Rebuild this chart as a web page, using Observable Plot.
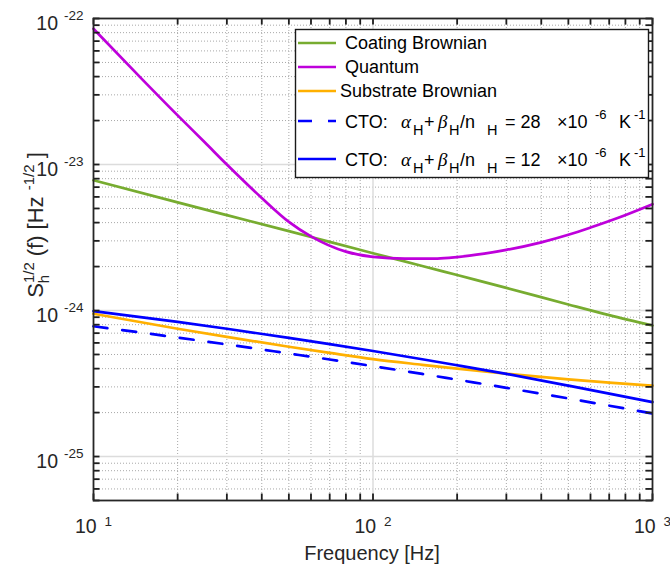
<!DOCTYPE html>
<html>
<head>
<meta charset="utf-8">
<script src="https://cdn.jsdelivr.net/npm/d3@7"></script>
<script src="https://cdn.jsdelivr.net/npm/@observablehq/plot@0.6"></script>
<style>
  body { margin: 0; background: #fff; }
  #chart { position: relative; width: 670px; height: 569px; }
  svg { font-family: "Liberation Sans", Arial, Helvetica, sans-serif; }
</style>
</head>
<body>
<div id="chart"></div>
<script>
// ---------- data ----------
const freq = [10, 20, 30, 50, 70, 100, 150, 200, 300, 500, 700, 1000];
const coatingBrownian   = [7.8e-24, 5.5e-24, 4.5e-24, 3.5e-24, 2.95e-24, 2.47e-24, 2.02e-24, 1.75e-24, 1.43e-24, 1.1e-24, 9.3e-25, 7.9e-25];
const substrateBrownian = [9.5e-25, 7.5e-25, 6.6e-25, 5.65e-25, 5.13e-25, 4.65e-25, 4.25e-25, 4.0e-25, 3.69e-25, 3.38e-25, 3.21e-25, 3.06e-25];
const cto28 = [7.8e-25, 6.53e-25, 5.86e-25, 5.08e-25, 4.62e-25, 4.16e-25, 3.68e-25, 3.36e-25, 2.955e-25, 2.5e-25, 2.23e-25, 1.97e-25];
const cto12 = [9.91e-25, 8.36e-25, 7.5e-25, 6.5e-25, 5.89e-25, 5.28e-25, 4.64e-25, 4.22e-25, 3.68e-25, 3.06e-25, 2.7e-25, 2.36e-25];
const freqQuantum = [10, 15, 20, 25, 30, 40, 50, 60, 80, 100, 130, 170, 200, 250, 300, 400, 500, 600, 750, 1000];
const quantum = [8.5e-23, 3.8e-23, 2.17e-23, 1.42e-23, 1.0e-23, 5.9e-24, 4.05e-24, 3.22e-24, 2.53e-24, 2.33e-24, 2.27e-24, 2.27e-24, 2.32e-24, 2.45e-24, 2.6e-24, 2.93e-24, 3.3e-24, 3.7e-24, 4.3e-24, 5.35e-24];

const xMajorTicks = [10, 100, 1000];
const yMajorTicks = [1e-25, 1e-24, 1e-23, 1e-22];
const minorMultipliers = [2, 3, 4, 5, 6, 7, 8, 9];
const xMinorTicks = [10, 100].flatMap(d => minorMultipliers.map(m => m * d));
const yMinorTicks = [1e-26, 1e-25, 1e-24, 1e-23].flatMap(d => minorMultipliers.map(m => m * d)).filter(v => v >= 5e-26 && v < 1e-22);

const seriesNames  = ["Coating Brownian", "Quantum", "Substrate Brownian", "CTO 28", "CTO 12"];
const seriesColors = ["#77AC30", "#BE00DB", "#FFB000", "#0000FF", "#0000FF"];
const seriesDash   = [null, null, null, "14,15", null];
const ctoValues = ["28", "12"];

// ---------- table ----------
const rows = [];
function add(name, fs, vs) { fs.forEach((f, i) => rows.push({series: name, f, v: vs[i]})); }
add(seriesNames[0], freq, coatingBrownian);
add(seriesNames[1], freqQuantum, quantum);
add(seriesNames[2], freq, substrateBrownian);
add(seriesNames[3], freq, cto28);
add(seriesNames[4], freq, cto12);

const FONT = '"Liberation Sans", Arial, Helvetica, sans-serif';
const axisColor = "#262626";
const W = 670, H = 569, mL = 93, mR = 18, mT = 18, mB = 69;
const innerW = W - mL - mR, innerH = H - mT - mB;
const tickLen = 6.5;

const lineMarks = seriesNames.map((name, i) =>
  Plot.line(rows.filter(r => r.series === name), {
    x: "f", y: "v", stroke: seriesColors[i], strokeWidth: 2.7,
    strokeDasharray: seriesDash[i] ?? undefined, curve: "monotone-x"
  })
);

const allX = [...xMajorTicks, ...xMinorTicks];
const allY = [...yMajorTicks, ...yMinorTicks];
const tickStyle = {stroke: "#1e1e1e", strokeWidth: 1.8};

const plot = Plot.plot({
  width: W, height: H,
  marginLeft: mL, marginRight: mR, marginTop: mT, marginBottom: mB,
  x: {type: "log", domain: [10, 1000], label: null},
  y: {type: "log", domain: [5e-26, 1e-22], label: null},
  style: {fontFamily: FONT, fontSize: "19.5px", color: axisColor, background: "#fff", overflow: "visible"},
  marks: [
    Plot.ruleX(xMinorTicks, {stroke: "#a8a8a8", strokeWidth: 1, strokeDasharray: "1,2"}),
    Plot.ruleY(yMinorTicks, {stroke: "#a8a8a8", strokeWidth: 1, strokeDasharray: "1,2"}),
    Plot.ruleX(xMajorTicks.slice(1, -1), {stroke: "#dcdcdc", strokeWidth: 1.5}),
    Plot.ruleY(yMajorTicks.slice(0, -1), {stroke: "#dcdcdc", strokeWidth: 1.5}),
    ...lineMarks,
    // inside tick marks on all four sides (short rules inset from the frame)
    Plot.ruleX(allX, {...tickStyle, insetTop: innerH - tickLen}),
    Plot.ruleX(allX, {...tickStyle, insetBottom: innerH - tickLen}),
    Plot.ruleY(allY, {...tickStyle, insetRight: innerW - tickLen}),
    Plot.ruleY(allY, {...tickStyle, insetLeft: innerW - tickLen}),
    Plot.axisX({anchor: "bottom", ticks: xMajorTicks, tickSize: 0, tickPadding: 19, label: null,
      tickFormat: d => "10^" + Math.round(Math.log10(d)), fontSize: 19.5}),
    Plot.axisY({anchor: "left", ticks: yMajorTicks, tickSize: 0, tickPadding: 10, dy: 5, label: null,
      tickFormat: d => "10^" + Math.round(Math.log10(d)), fontSize: 19.5}),
    Plot.frame({stroke: axisColor, strokeWidth: 1.8})
  ]
});

document.getElementById("chart").appendChild(plot);
const svg = d3.select(plot);

// superscripts in tick labels
function supLabels(selector, gap, supDy) {
  svg.selectAll(selector).each(function () {
    const [base, exp] = this.textContent.split("^");
    if (exp === undefined) return;
    this.textContent = "";
    const t = d3.select(this);
    t.append("tspan").text(base);
    t.append("tspan").attr("dx", gap).attr("dy", supDy).attr("font-size", 13.5).text(exp);
  });
}
supLabels('g[aria-label="x-axis tick label"] text', 8, -7.5);
supLabels('g[aria-label="y-axis tick label"] text', 6, -10);

// x title
svg.append("text")
  .attr("x", 372).attr("y", 560).attr("text-anchor", "middle")
  .attr("font-size", 20).attr("fill", axisColor)
  .text("Frequency [Hz]");

// y title: S_h^{1/2} (f) [Hz ^{-1/2} ]
const yt = svg.append("text")
  .attr("transform", "translate(43,225) rotate(-90)")
  .attr("text-anchor", "middle").attr("font-size", 22).attr("fill", axisColor);
yt.append("tspan").text("S");
yt.append("tspan").attr("font-size", 15).attr("dy", -9.5).text("1/2");
yt.append("tspan").attr("font-size", 15).attr("dx", -21).attr("dy", 15).text("h");
yt.append("tspan").attr("dx", 12.5).attr("dy", -5.5).text(" (f) [Hz ");
yt.append("tspan").attr("font-size", 15).attr("dy", -9.5).text("-1/2");
yt.append("tspan").attr("dy", 9.5).text(" ]");

// legend
const lg = svg.append("g").attr("font-family", FONT).attr("fill", "#000").attr("text-anchor", "start");
lg.append("rect").attr("x", 295.5).attr("y", 29.5).attr("width", 353).attr("height", 148)
  .attr("fill", "#fff").attr("stroke", "#1a1a1a").attr("stroke-width", 1.4);
const rowY = [43, 67, 91, 121, 159];
seriesNames.forEach((name, i) => {
  lg.append("line").attr("x1", 298).attr("x2", 336).attr("y1", rowY[i]).attr("y2", rowY[i])
    .attr("stroke", seriesColors[i]).attr("stroke-width", 2.7)
    .attr("stroke-dasharray", seriesDash[i] ? "14,16" : null);
});
const simple = [[seriesNames[0], 345], [seriesNames[1], 345], [seriesNames[2], 340]];
simple.forEach(([txt, x], i) => {
  lg.append("text").attr("x", x).attr("y", rowY[i] + 6).attr("font-size", 18).text(txt);
});
function ctoLabel(y, val) {
  const t = lg.append("text").attr("y", y).attr("font-size", 18);
  const serif = '"Liberation Serif", "DejaVu Serif", serif';
  t.append("tspan").attr("x", 345).text("CTO:");
  t.append("tspan").attr("x", 401).attr("font-family", serif).attr("font-style", "italic").attr("font-size", 19).text("α");
  t.append("tspan").attr("x", 413).attr("dy", 7).attr("font-size", 14.5).text("H");
  t.append("tspan").attr("x", 424).attr("dy", -7).text("+");
  t.append("tspan").attr("x", 438).attr("font-family", serif).attr("font-style", "italic").attr("font-size", 19).text("β");
  t.append("tspan").attr("x", 449).attr("dy", 7).attr("font-size", 14.5).text("H");
  t.append("tspan").attr("x", 460).attr("dy", -7).text("/n");
  t.append("tspan").attr("x", 487).attr("dy", 7).attr("font-size", 14.5).text("H");
  t.append("tspan").attr("x", 505).attr("dy", -7).text("= " + val);
  t.append("tspan").attr("x", 557).text("×10");
  t.append("tspan").attr("x", 595).attr("dy", -9).attr("font-size", 13).text("-6");
  t.append("tspan").attr("x", 619).attr("dy", 9).text("K");
  t.append("tspan").attr("x", 634).attr("dy", -9).attr("font-size", 13).text("-1");
}
ctoLabel(rowY[3] + 6.5, ctoValues[0]);
ctoLabel(rowY[4] + 6.5, ctoValues[1]);
</script>
</body>
</html>
